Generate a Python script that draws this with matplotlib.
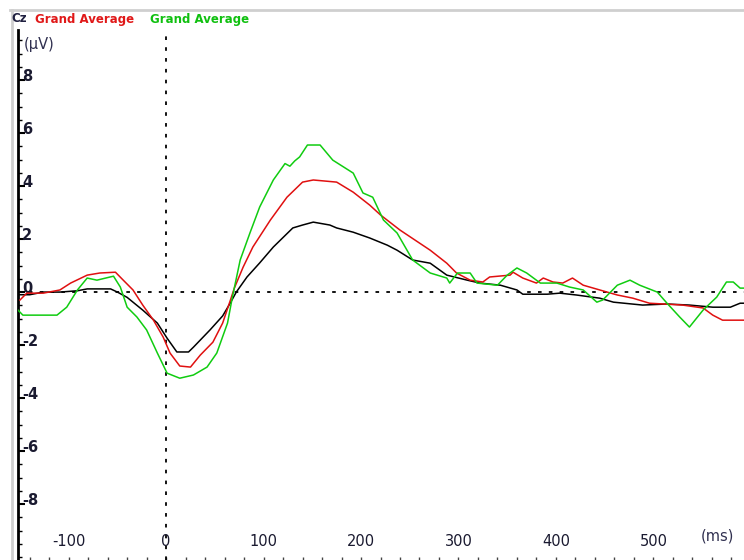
import matplotlib
matplotlib.use("Agg")
import matplotlib.pyplot as plt
from matplotlib.lines import Line2D
import numpy as np

# ---- data (ms, µV) ----
black_t = [-152, -140, -126, -109, -91, -81, -57, -50, -40, -24, -9, 1, 11, 23, 28, 45, 58, 66, 72, 83,
           96, 110, 130, 140, 151, 168, 175, 192, 209, 227, 237, 253, 271, 288, 309, 322, 343, 360, 366,
           391, 404, 421, 445, 459, 489, 514, 537, 561, 579, 589, 593]
black_v = [-0.1, -0.1, 0.0, 0.0, 0.05, 0.12, 0.12, 0.0, -0.2, -0.68, -1.17, -1.74, -2.26, -2.26, -2.08,
           -1.43, -0.9, -0.4, 0.0, 0.57, 1.1, 1.7, 2.42, 2.53, 2.64, 2.53, 2.42, 2.26, 2.04, 1.77, 1.58,
           1.21, 1.09, 0.64, 0.45, 0.34, 0.26, 0.08, -0.08, -0.08, -0.04, -0.11, -0.23, -0.38, -0.49,
           -0.45, -0.49, -0.57, -0.57, -0.42, -0.42]

red_t = [-150, -143, -126, -109, -98, -81, -68, -52, -44, -34, -24, -13, -3, 4, 14, 25, 35, 48, 58, 66,
         70, 79, 89, 107, 124, 140, 151, 175, 192, 209, 220, 240, 271, 288, 298, 312, 325, 332, 353, 356,
         366, 380, 387, 397, 407, 417, 428, 445, 463, 479, 496, 530, 551, 561, 571, 593]
red_v = [-0.3, -0.04, -0.04, 0.08, 0.34, 0.64, 0.72, 0.75, 0.45, 0.08, -0.49, -1.06, -1.7, -2.3, -2.79,
         -2.83, -2.38, -1.89, -1.17, -0.3, 0.15, 0.94, 1.7, 2.72, 3.58, 4.15, 4.23, 4.15, 3.77, 3.28,
         2.91, 2.34, 1.58, 1.09, 0.72, 0.45, 0.38, 0.57, 0.64, 0.75, 0.53, 0.34, 0.53, 0.38, 0.34, 0.53,
         0.26, 0.08, -0.11, -0.23, -0.42, -0.49, -0.6, -0.87, -1.06, -1.06]

green_t = [-152, -147, -119, -112, -102, -91, -81, -71, -54, -47, -40, -30, -20, -9, 1, 14, 28, 42, 52,
           63, 68, 76, 86, 96, 110, 122, 127, 132, 137, 145, 158, 171, 192, 202, 212, 223, 237, 253, 271,
           288, 291, 299, 312, 319, 340, 350, 360, 370, 384, 401, 414, 428, 442, 448, 463, 476, 486, 504,
           514, 527, 537, 551, 565, 575, 582, 589, 593]
green_v = [-0.68, -0.87, -0.87, -0.87, -0.57, 0.08, 0.53, 0.45, 0.6, 0.19, -0.57, -0.94, -1.43, -2.3,
           -3.06, -3.25, -3.13, -2.83, -2.3, -1.17, -0.19, 1.21, 2.23, 3.21, 4.23, 4.85, 4.75, 4.95, 5.1,
           5.55, 5.55, 4.98, 4.49, 3.74, 3.58, 2.72, 2.23, 1.21, 0.72, 0.53, 0.34, 0.72, 0.72, 0.34, 0.26,
           0.64, 0.91, 0.72, 0.34, 0.34, 0.19, 0.08, -0.38, -0.3, 0.26, 0.45, 0.26, 0.0, -0.42, -0.94,
           -1.32, -0.68, -0.19, 0.38, 0.38, 0.15, 0.15]

xtick_vals = [-100, 0, 100, 200, 300, 400, 500]
ytick_vals = [8, 6, 4, 2, 0, -2, -4, -6, -8]
title_parts = [("Cz", "#202040"), ("Grand Average", "#e01818"), ("Grand Average", "#10c010")]

W, H = 744, 560
fig = plt.figure(figsize=(W / 100, H / 100), dpi=100)
fig.patch.set_facecolor("white")

# frame lines (light gray) at top and left
fig.add_artist(Line2D([10 / W, 1], [1 - 10 / H, 1 - 10 / H], color="#cfcfcf", lw=2))
fig.add_artist(Line2D([12 / W, 12 / W], [0, 1 - 10 / H], color="#cfcfcf", lw=2))

ax = fig.add_axes([18 / W, 0, 1 - 18 / W, 530 / H])
ax.set_xlim(-152, 593)
ax.set_ylim(-10.11, 9.89)
ax.set_facecolor("none")

ax.plot(black_t, black_v, color="black", lw=1.1, zorder=3)
ax.plot(red_t, red_v, color="#e01010", lw=1.1, zorder=4)
ax.plot(green_t, green_v, color="#10cc10", lw=1.1, zorder=5)

# dotted zero lines
ax.axhline(0, color="black", lw=1.3, ls=(0, (2, 4)), zorder=2)
ax.axvline(0, color="black", lw=1.3, ls=(0, (2, 4)), zorder=2)

for s in ["top", "right", "bottom"]:
    ax.spines[s].set_visible(False)
ax.spines["left"].set_linewidth(2)
ax.spines["left"].set_color("black")

ax.set_yticks(ytick_vals)
ax.set_yticks(np.arange(-10, 10, 0.5), minor=True)
ax.tick_params(axis="y", which="major", direction="in", length=5, width=1.5, labelleft=False)
ax.tick_params(axis="y", which="minor", direction="in", length=3, width=1)
ax.set_xticks(xtick_vals)
ax.set_xticks(np.arange(-140, 600, 20), minor=True)
ax.tick_params(axis="x", which="both", direction="in", length=2, width=1, labelbottom=False, color="#444444")

# y labels inside the plot
for v in ytick_vals:
    ax.text(0.006, v + 0.15, str(v), transform=ax.get_yaxis_transform(), ha="left", va="center",
            fontsize=10.5, fontweight="bold", color="#1a1a30", family="DejaVu Sans")
# x labels inside the plot
for v in xtick_vals:
    ax.text(v, -9.4, str(v), ha="center", va="center", fontsize=10.5, color="#1a1a30", family="DejaVu Sans")

ax.text(0.008, 1 - 15 / 530, "(µV)", transform=ax.transAxes, ha="left",
        va="center", fontsize=10.5, color="#303050", family="DejaVu Sans")
ax.text(566, -9.2, "(ms)", ha="center", va="center", fontsize=10.5, color="#303050", family="DejaVu Sans")

# title parts
xpos = [11, 35, 150]
for (txt, col), xp in zip(title_parts, xpos):
    fig.text(xp / W, 1 - 19 / H, txt, color=col, fontsize=8.5, fontweight="bold", ha="left",
             va="center", family="DejaVu Sans")

fig.savefig("out.png", dpi=100, facecolor="white")
